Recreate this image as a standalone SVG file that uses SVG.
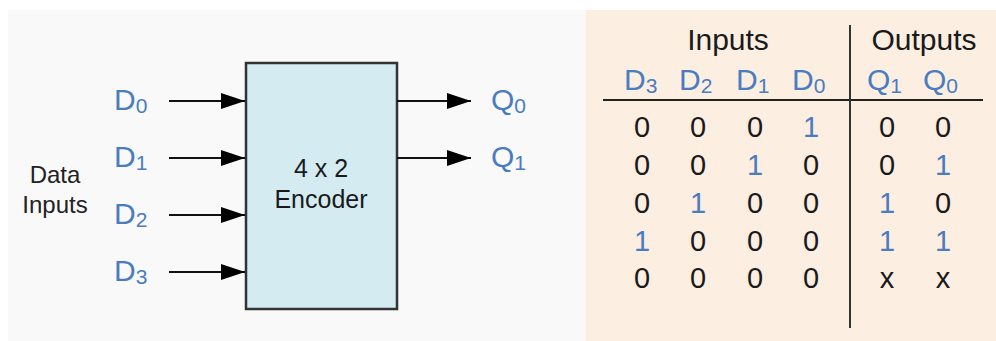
<svg xmlns="http://www.w3.org/2000/svg" width="996" height="341" viewBox="0 0 996 341">
<defs>
<style>
text{font-family:"Liberation Sans",Arial,sans-serif;}
.blue{fill:#4a7cc0;}
.blk{fill:#1a1a1a;}
.lbl{font-size:30px;}
.sub{font-size:21px;}
.cell{font-size:29px;text-anchor:middle;}
.wire{stroke:#111;stroke-width:2;fill:none;marker-end:url(#arr);}
</style>
<marker id="arr" viewBox="0 0 24 16" refX="24" refY="8" markerWidth="24" markerHeight="16" markerUnits="userSpaceOnUse" orient="auto">
<path d="M0,0 L24,8 L0,16 Z" fill="#000"/>
</marker>
</defs>
<rect width="996" height="341" fill="#ffffff"/>
<rect x="8" y="10" width="578" height="331" fill="#f9f9f9"/>
<rect x="586" y="10" width="410" height="331" fill="#fdeee2"/>

<g id="encoder">
<rect x="246" y="63" width="151" height="246" fill="#d5ebf2" stroke="#333" stroke-width="2.5"/>
<text x="321" y="177" font-size="25" text-anchor="middle" class="blk">4 x 2</text>
<text x="321" y="208" font-size="25" text-anchor="middle" class="blk">Encoder</text>
</g>

<g id="data-inputs">
<text x="55" y="183" font-size="24" text-anchor="middle" fill="#222">Data</text>
<text x="55" y="213" font-size="24" text-anchor="middle" fill="#222">Inputs</text>
</g>

<g id="input-labels" class="blue">
<text x="114" y="110" class="lbl">D<tspan class="sub" dy="3">0</tspan></text>
<text x="114" y="167" class="lbl">D<tspan class="sub" dy="3">1</tspan></text>
<text x="114" y="224" class="lbl">D<tspan class="sub" dy="3">2</tspan></text>
<text x="114" y="281" class="lbl">D<tspan class="sub" dy="3">3</tspan></text>
</g>

<g id="output-labels" class="blue">
<text x="491" y="110" class="lbl">Q<tspan class="sub" dy="3">0</tspan></text>
<text x="491" y="167" class="lbl">Q<tspan class="sub" dy="3">1</tspan></text>
</g>

<g id="connectors">
<line class="wire" x1="169" y1="101" x2="245" y2="101"/>
<line class="wire" x1="169" y1="158" x2="245" y2="158"/>
<line class="wire" x1="169" y1="215" x2="245" y2="215"/>
<line class="wire" x1="169" y1="272" x2="245" y2="272"/>
<line class="wire" x1="397" y1="101" x2="471" y2="101"/>
<line class="wire" x1="397" y1="158" x2="471" y2="158"/>
</g>

<g id="truth-table">
<line x1="603" y1="100" x2="983" y2="100" stroke="#222" stroke-width="2"/>
<line x1="850" y1="25" x2="850" y2="328" stroke="#333" stroke-width="2"/>
<text x="728" y="50" font-size="30" text-anchor="middle" class="blk">Inputs</text>
<text x="924" y="50" font-size="30" text-anchor="middle" class="blk">Outputs</text>
<g class="blue">
<text x="624" y="90" class="lbl">D<tspan class="sub" dy="3">3</tspan></text>
<text x="679" y="90" class="lbl">D<tspan class="sub" dy="3">2</tspan></text>
<text x="736" y="90" class="lbl">D<tspan class="sub" dy="3">1</tspan></text>
<text x="792" y="90" class="lbl">D<tspan class="sub" dy="3">0</tspan></text>
<text x="867" y="90" class="lbl">Q<tspan class="sub" dy="3">1</tspan></text>
<text x="923" y="90" class="lbl">Q<tspan class="sub" dy="3">0</tspan></text>
</g>
<g class="cell">
<text x="642" y="137" class="blk">0</text><text x="698" y="137" class="blk">0</text><text x="755" y="137" class="blk">0</text><text x="811" y="137" class="blue">1</text><text x="887" y="137" class="blk">0</text><text x="943" y="137" class="blk">0</text>
<text x="642" y="175" class="blk">0</text><text x="698" y="175" class="blk">0</text><text x="755" y="175" class="blue">1</text><text x="811" y="175" class="blk">0</text><text x="887" y="175" class="blk">0</text><text x="943" y="175" class="blue">1</text>
<text x="642" y="213" class="blk">0</text><text x="698" y="213" class="blue">1</text><text x="755" y="213" class="blk">0</text><text x="811" y="213" class="blk">0</text><text x="887" y="213" class="blue">1</text><text x="943" y="213" class="blk">0</text>
<text x="642" y="251" class="blue">1</text><text x="698" y="251" class="blk">0</text><text x="755" y="251" class="blk">0</text><text x="811" y="251" class="blk">0</text><text x="887" y="251" class="blue">1</text><text x="943" y="251" class="blue">1</text>
<text x="642" y="288" class="blk">0</text><text x="698" y="288" class="blk">0</text><text x="755" y="288" class="blk">0</text><text x="811" y="288" class="blk">0</text><text x="887" y="288" class="blk">x</text><text x="943" y="288" class="blk">x</text>
</g>
</g>
</svg>
